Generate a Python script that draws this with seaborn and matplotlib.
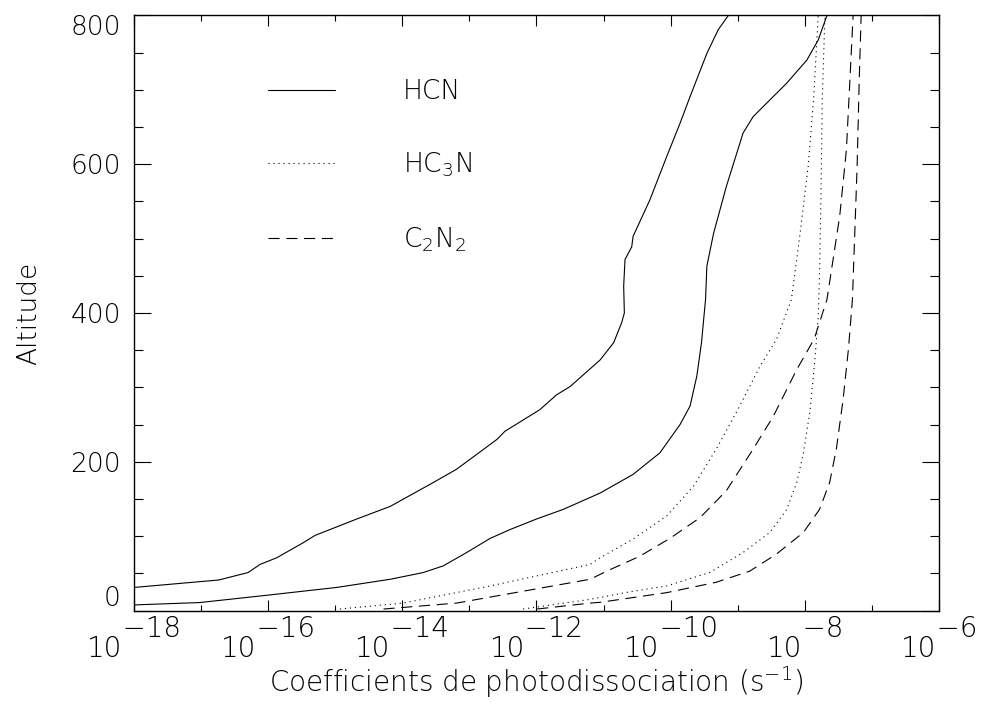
import numpy as np
import pandas as pd
import seaborn as sns
import matplotlib.pyplot as plt
from matplotlib.lines import Line2D
from matplotlib.ticker import FixedLocator, FixedFormatter

# --- données (log10 du coefficient, altitude) ---
hcn_a_logj = [-18.00, -16.74, -16.30, -16.12, -15.87, -15.48, -15.30, -14.68, -14.18, -13.54,
              -13.19, -12.59, -12.47, -11.95, -11.70, -11.50, -11.20, -11.05, -10.85, -10.73,
              -10.69, -10.70, -10.68, -10.58, -10.56, -10.31, -10.06, -9.86, -9.71, -9.46,
              -9.29, -9.14]
hcn_a_alt = [31, 41, 51, 62, 71, 91, 101, 123, 140, 172,
             190, 230, 241, 270, 290, 301, 325, 337, 360, 387,
             400, 436, 472, 489, 503, 552, 610, 655, 691, 749,
             781, 800]

hcn_b_logj = [-18.00, -17.02, -16.02, -14.98, -14.18, -13.69, -13.39, -13.04, -12.69, -12.39,
              -12.00, -11.60, -11.20, -11.05, -10.56, -10.16, -9.86, -9.71, -9.61, -9.54,
              -9.48, -9.46, -9.36, -9.17, -8.92, -8.77, -8.57, -8.27, -7.97, -7.80, -7.67]
hcn_b_alt = [7.5, 10.7, 20.5, 31, 42, 51, 60, 78, 97, 109,
             123, 136, 152, 158, 183, 212, 250, 275, 315, 360,
             418, 463, 507, 570, 642, 664, 682, 709, 740, 767, 800]

hc3n_a_logj = [-14.93, -13.99, -12.69, -11.20, -11.05, -10.56, -10.06, -9.66, -9.32, -8.97,
               -8.67, -8.42, -8.20, -8.07, -7.95, -7.87, -7.80]
hc3n_a_alt = [2, 10, 33, 62, 71, 96, 127, 167, 217, 275,
              328, 365, 418, 507, 597, 686, 800]

hc3n_b_logj = [-12.20, -11.20, -10.56, -10.06, -9.42, -8.92, -8.52, -8.27, -8.12, -8.02,
               -7.92, -7.85, -7.80, -7.78, -7.76, -7.74, -7.70]
hc3n_b_alt = [2, 15, 26, 33, 51, 78, 105, 136, 172, 212,
              270, 337, 395, 450, 552, 686, 800]

c2n2_a_logj = [-14.28, -13.19, -11.20, -10.95, -10.46, -10.01, -9.56, -9.17, -8.77, -8.47,
               -8.12, -7.86, -7.67, -7.48, -7.38, -7.33, -7.28]
c2n2_a_alt = [2, 10, 42, 53, 73, 97, 125, 161, 217, 261,
              324, 365, 418, 530, 619, 709, 800]

c2n2_b_logj = [-11.99, -11.20, -11.05, -10.06, -9.32, -8.82, -8.42, -8.02, -7.78, -7.63,
               -7.53, -7.43, -7.35, -7.29, -7.22, -7.19, -7.16]
c2n2_b_alt = [2, 10, 11, 24, 38, 53, 76, 105, 136, 172,
              217, 283, 351, 418, 597, 709, 800]

molecules = ["HCN", "HC3N", "C2N2"]
legend_labels = ["HCN", "HC$_3$N", "C$_2$N$_2$"]
xtick_exp = [-18, -16, -14, -12, -10, -8, -6]
xminor_exp = [-17, -15, -13, -11, -9, -7]
ytick_major = [0, 200, 400, 600, 800]

curves = [
    ("HCN", "a", hcn_a_logj, hcn_a_alt),
    ("HCN", "b", hcn_b_logj, hcn_b_alt),
    ("HC3N", "a", hc3n_a_logj, hc3n_a_alt),
    ("HC3N", "b", hc3n_b_logj, hc3n_b_alt),
    ("C2N2", "a", c2n2_a_logj, c2n2_a_alt),
    ("C2N2", "b", c2n2_b_logj, c2n2_b_alt),
]
frames = []
for mol, run, logj, alt in curves:
    frames.append(pd.DataFrame({"molecule": mol, "curve": mol + run,
                                "J": np.power(10.0, logj), "alt": alt}))
df = pd.concat(frames, ignore_index=True)

sns.set_style("ticks")
plt.rcParams["font.family"] = ["DejaVu Sans"]
plt.rcParams["font.weight"] = "light"
plt.rcParams["axes.labelweight"] = "light"
plt.rcParams["mathtext.default"] = "regular"
plt.rcParams["text.color"] = "black"
plt.rcParams["axes.labelcolor"] = "black"
plt.rcParams["xtick.color"] = "black"
plt.rcParams["ytick.color"] = "black"
plt.rcParams["axes.edgecolor"] = "black"

lw = 0.8
dashes = {"HCN": "", "HC3N": (1, 3.5), "C2N2": (10, 6)}

fig = plt.figure(figsize=(9.83, 7.04), dpi=100)
ax = fig.add_axes([0.1363, 0.1328, 0.8189, 0.8452])

sns.lineplot(data=df, x="J", y="alt", style="molecule", units="curve",
             estimator=None, sort=False, color="black", linewidth=lw,
             dashes=dashes, style_order=molecules, legend=False, ax=ax)

ax.set_xscale("log")
ax.set_xlim(1e-18, 1e-6)
ax.set_ylim(0, 800)

ax.xaxis.set_major_locator(FixedLocator([10.0 ** e for e in xtick_exp]))
ax.xaxis.set_minor_locator(FixedLocator([10.0 ** e for e in xminor_exp]))
ax.xaxis.set_major_formatter(FixedFormatter(
    ["    \u2212%d\n10" % abs(e) for e in xtick_exp]))
ax.xaxis.set_minor_formatter(FixedFormatter([""] * len(xminor_exp)))
ax.set_yticks(ytick_major)
ax.set_yticks(np.arange(0, 801, 50), minor=True)

ax.tick_params(axis="x", which="major", direction="in", length=8, width=0.8,
               top=True, labelsize=20, pad=3)
ax.tick_params(axis="x", which="minor", direction="in", length=4.3, width=0.8, top=True)
ax.tick_params(axis="y", which="major", direction="in", length=12, width=0.8,
               right=True, labelsize=19, pad=9.5)
ax.tick_params(axis="y", which="minor", direction="in", length=6.5, width=0.8, right=True)

for lab in ax.get_xticklabels():
    lab.set_linespacing(0.65)
    lab.set_multialignment("left")
ylabs = ax.get_yticklabels()
ylabs[0].set_va("bottom")
ylabs[-1].set_va("top")

for sp in ax.spines.values():
    sp.set_linewidth(1.0)

ax.set_xlabel("Coefficients de photodissociation (s$^{-1}$)", fontsize=20, labelpad=1)
ax.set_ylabel("Altitude", fontsize=19, labelpad=21)

handles = [Line2D([], [], color="black", linewidth=lw,
                  linestyle=(0, dashes[m]) if dashes[m] else "-") for m in molecules]
ax.legend(handles, legend_labels, loc="upper left", bbox_to_anchor=(0.1665, 0.893),
          frameon=False, fontsize=19, handlelength=2.55, handletextpad=2.55,
          labelspacing=1.75, borderpad=0, borderaxespad=0)

fig.savefig("out.png", dpi=100)
